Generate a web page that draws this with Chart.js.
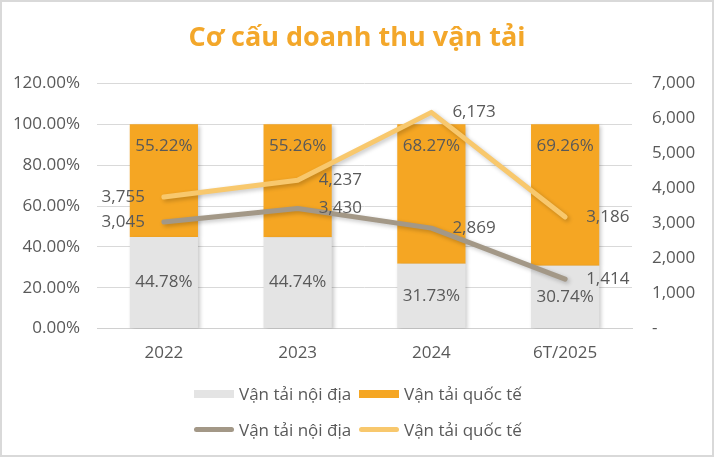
<!DOCTYPE html>
<html>
<head>
<meta charset="utf-8">
<script src="https://cdn.jsdelivr.net/npm/chart.js@4.4.1/dist/chart.umd.min.js"></script>
<style>
  html, body { margin: 0; padding: 0; background: #fff; }
  #wrap { position: relative; width: 714px; height: 457px; box-sizing: border-box; border: 2px solid #d9d9d9; }
  #chart { display: block; }
  #legend { position: absolute; left: 0; right: 0; top: 380px; font-family: "Open Sans", sans-serif; font-size: 17px; color: #595959; }
  .row { display: flex; justify-content: center; margin-bottom: 13px; padding-left: 4px; }
  .item { display: flex; align-items: center; width: 165px; white-space: nowrap; }
  .sw { width: 40px; margin-right: 5px; flex: none; }
  .box { height: 8px; }
  .ln { height: 5px; border-radius: 3px; }
</style>
</head>
<body>
<div id="wrap">
  <canvas id="chart" width="710" height="453"></canvas>
  <div id="legend">
    <div class="row">
      <div class="item"><span class="sw box" style="background:#e4e4e4"></span>Vận tải nội địa</div>
      <div class="item"><span class="sw box" style="background:#f5a623"></span>Vận tải quốc tế</div>
    </div>
    <div class="row">
      <div class="item"><span class="sw ln" style="background:#a39887"></span>Vận tải nội địa</div>
      <div class="item"><span class="sw ln" style="background:#f8c86d"></span>Vận tải quốc tế</div>
    </div>
  </div>
</div>
<script>
const categories = ['2022', '2023', '2024', '6T/2025'];
const shareDomestic = [44.78, 44.74, 31.73, 30.74];
const shareIntl = [55.22, 55.26, 68.27, 69.26];
const revDomestic = [3045, 3430, 2869, 1414];
const revIntl = [3755, 4237, 6173, 3186];

const FONT = '"Open Sans", sans-serif';
const TXT = '#595959';

// soft shadow like the Excel original
const shadowPlugin = {
  id: 'shadow',
  beforeDatasetDraw(chart) {
    const ctx = chart.ctx;
    ctx.save();
    ctx.shadowColor = 'rgba(0,0,0,0.22)';
    ctx.shadowBlur = 4;
    ctx.shadowOffsetX = 2;
    ctx.shadowOffsetY = 2;
  },
  afterDatasetDraw(chart) {
    chart.ctx.restore();
  }
};

// data labels
const labelPlugin = {
  id: 'labels',
  afterDatasetsDraw(chart) {
    const ctx = chart.ctx;
    ctx.save();
    ctx.font = '17px ' + FONT;
    ctx.fillStyle = TXT;
    ctx.textBaseline = 'middle';
    chart.data.datasets.forEach((ds, i) => {
      const meta = chart.getDatasetMeta(i);
      meta.data.forEach((el, j) => {
        const v = ds.data[j];
        if (ds.type === 'bar') {
          ctx.textAlign = 'center';
          const txt = v.toFixed(2) + '%';
          if (ds.label === 'intl') {
            ctx.fillText(txt, el.x, el.y + 22);
          } else {
            ctx.fillText(txt, el.x, (el.y + el.base) / 2);
          }
        } else {
          const txt = v.toLocaleString('en-US');
          if (j === 0) {
            ctx.textAlign = 'right';
            ctx.fillText(txt, el.x - 19, el.y);
          } else {
            ctx.textAlign = 'left';
            ctx.fillText(txt, el.x + 21, el.y);
          }
        }
      });
    });
    ctx.restore();
  }
};

new Chart(document.getElementById('chart').getContext('2d'), {
  data: {
    labels: categories,
    datasets: [
      {
        type: 'line', label: 'revIntl', data: revIntl, yAxisID: 'y1',
        borderColor: '#f8c86d', borderWidth: 5, borderCapStyle: 'round', borderJoinStyle: 'round',
        pointRadius: 0, tension: 0, order: 0
      },
      {
        type: 'line', label: 'revDomestic', data: revDomestic, yAxisID: 'y1',
        borderColor: '#a39887', borderWidth: 5, borderCapStyle: 'round', borderJoinStyle: 'round',
        pointRadius: 0, tension: 0, order: 0
      },
      {
        type: 'bar', label: 'domestic', data: shareDomestic, yAxisID: 'y',
        backgroundColor: '#e4e4e4', barPercentage: 0.51, categoryPercentage: 1, order: 1
      },
      {
        type: 'bar', label: 'intl', data: shareIntl, yAxisID: 'y',
        backgroundColor: '#f5a623', barPercentage: 0.51, categoryPercentage: 1, order: 1
      }
    ]
  },
  options: {
    responsive: false,
    animation: false,
    layout: { padding: { left: 0, right: 0, top: 0, bottom: 86 } },
    plugins: {
      legend: { display: false },
      tooltip: { enabled: false },
      title: {
        display: true,
        text: 'Cơ cấu doanh thu vận tải',
        color: '#f3a72a',
        font: { family: FONT, size: 27, weight: 'bold' },
        padding: { top: 20, bottom: 29 }
      }
    },
    scales: {
      x: {
        stacked: true,
        grid: { display: false },
        border: { color: '#d0d0d0' },
        ticks: { color: TXT, font: { family: FONT, size: 17 }, padding: 6 }
      },
      y: {
        stacked: true,
        position: 'left',
        min: 0, max: 120,
        grid: { color: '#d9d9d9', drawTicks: false },
        border: { display: false },
        afterFit: s => { s.width = 95; },
        ticks: {
          stepSize: 20, padding: 17, color: TXT, font: { family: FONT, size: 17 },
          callback: v => v.toFixed(2) + '%'
        }
      },
      y1: {
        position: 'right',
        min: 0, max: 7000,
        grid: { drawOnChartArea: false, drawTicks: false },
        border: { display: false },
        afterFit: s => { s.width = 80; },
        ticks: {
          stepSize: 1000, padding: 20, color: TXT, font: { family: FONT, size: 17 },
          callback: v => v === 0 ? '-' : v.toLocaleString('en-US')
        }
      }
    }
  },
  plugins: [shadowPlugin, labelPlugin]
});
</script>
</body>
</html>
